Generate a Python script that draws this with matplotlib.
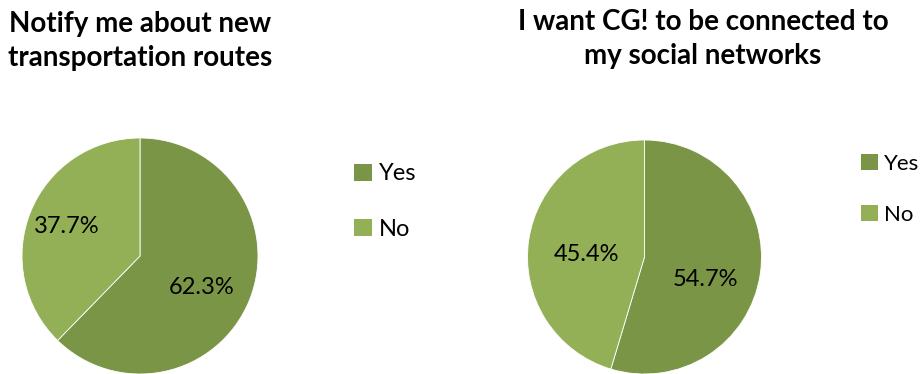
import numpy as np
import matplotlib
matplotlib.use('Agg')
import matplotlib.pyplot as plt
from matplotlib.patches import Patch

plt.rcParams['font.family'] = ['Lato', 'DejaVu Sans']

# survey answers
categories = ['Yes', 'No']
routes_values = [62.3, 37.7]
social_values = [54.7, 45.4]
routes_title = 'Notify me about new\ntransportation routes'
social_title = 'I want CG! to be connected to\nmy social networks'

colors = ['#7B9546', '#93B057']

W, H = 923, 374
fig = plt.figure(figsize=(W / 100, H / 100), dpi=100)


def draw_pie(cx, cy, r, values, label_pos):
    # cx, cy, r in pixels (cy measured from top)
    ax = fig.add_axes([(cx - r) / W, (H - cy - r) / H, 2 * r / W, 2 * r / H])
    wedges, _ = ax.pie(values, colors=colors, startangle=90, counterclock=False,
                       wedgeprops=dict(edgecolor='white', linewidth=0.6))
    # label placement: (radius fraction, angle shift in degrees)
    for w, v, (d, shift) in zip(wedges, values, label_pos):
        ang = np.deg2rad((w.theta1 + w.theta2) / 2 + shift)
        ax.text(d * np.cos(ang), d * np.sin(ang), '%.1f%%' % v,
                ha='center', va='center', fontsize=17, color='black')
    ax.set_xlim(-1, 1)
    ax.set_ylim(-1, 1)
    ax.set_aspect('equal')
    ax.axis('off')
    return ax


draw_pie(140, 256, 118, routes_values, [(0.59, -5), (0.67, 0)])
draw_pie(644.5, 257, 117, social_values, [(0.56, -12), (0.5, 6)])

fig.text(140 / W, 1 - 41 / H, routes_title, ha='center', va='center',
         fontsize=20, fontweight='bold', linespacing=1.4)
fig.text(703 / W, 1 - 39 / H, social_title, ha='center', va='center',
         fontsize=20, fontweight='bold', linespacing=1.35)

handles = [Patch(facecolor=c, edgecolor='none') for c in colors]
for x, y, fs, sp in [(345, 154, 17, 1.45), (852, 145, 16, 1.4)]:
    fig.legend(handles, categories, loc='upper left',
               bbox_to_anchor=(x / W, 1 - y / H), frameon=False,
               fontsize=fs, handlelength=0.75, handleheight=0.75,
               handletextpad=0.3, labelspacing=sp, borderaxespad=0)

fig.savefig('out.png', dpi=100)
